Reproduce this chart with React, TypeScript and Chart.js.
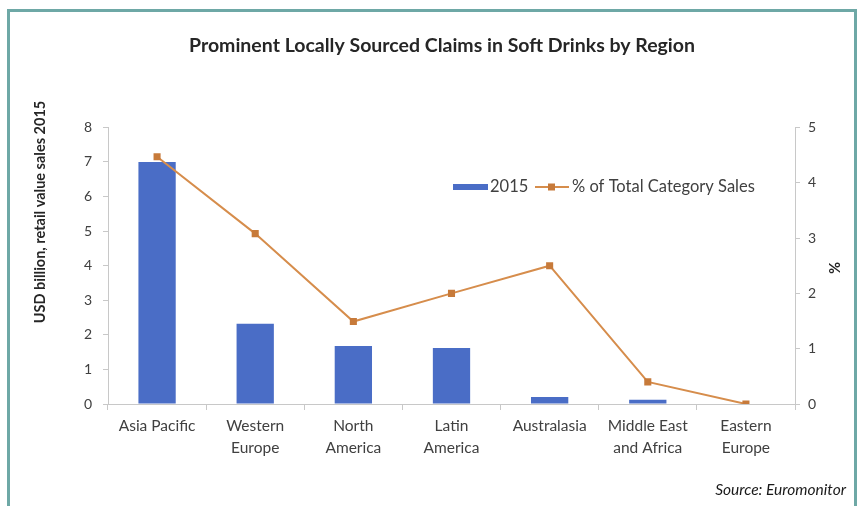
import { useEffect, useRef } from "react";
import { Chart, registerables } from "chart.js";

Chart.register(...registerables);

const chartTitle = "Prominent Locally Sourced Claims in Soft Drinks by Region";
const leftAxisTitle = "USD billion, retail value sales 2015";
const rightAxisTitle = "%";
const sourceText = "Source: Euromonitor";

const categories: string[][] = [
  ["Asia Pacific"],
  ["Western", "Europe"],
  ["North", "America"],
  ["Latin", "America"],
  ["Australasia"],
  ["Middle East", "and Africa"],
  ["Eastern", "Europe"],
];
const barLabel = "2015";
const sales2015 = [7.0, 2.32, 1.68, 1.62, 0.2, 0.12, 0];
const lineLabel = "% of Total Category Sales";
const pctOfTotal = [4.47, 3.08, 1.49, 2.0, 2.5, 0.4, 0];

const leftTicks = [0, 1, 2, 3, 4, 5, 6, 7, 8];
const rightTicks = [0, 1, 2, 3, 4, 5];

const BAR_COLOR = "#4a6dc6";
const LINE_COLOR = "#d68d4c";
const MARKER_COLOR = "#c77a3a";
const TEXT_COLOR = "#404040";
const AXIS_COLOR = "#c8c8c8";
const FONT = "Lato, 'Open Sans', sans-serif";

const overlayPlugin = {
  id: "overlay",
  afterDraw(chart: any) {
    const ctx = chart.ctx as CanvasRenderingContext2D;
    ctx.save();
    // left axis title
    ctx.fillStyle = "#262626";
    ctx.font = `bold 14.5px ${FONT}`;
    ctx.textAlign = "center";
    ctx.textBaseline = "middle";
    ctx.save();
    ctx.translate(40, 212);
    ctx.rotate(-Math.PI / 2);
    ctx.fillText(leftAxisTitle, 0, 0);
    ctx.restore();
    // right axis title
    ctx.save();
    ctx.translate(834, 268);
    ctx.rotate(Math.PI / 2);
    ctx.fillText(rightAxisTitle, 0, 0);
    ctx.restore();

    // legend
    const ds = chart.data.datasets;
    const ly = 187;
    ctx.font = `16.5px ${FONT}`;
    ctx.textAlign = "left";
    ctx.fillStyle = ds[1].backgroundColor;
    ctx.fillRect(453, ly - 3, 35, 6);
    ctx.fillStyle = TEXT_COLOR;
    ctx.fillText(ds[1].label, 490, ly);
    ctx.strokeStyle = ds[0].borderColor;
    ctx.lineWidth = 2;
    ctx.beginPath();
    ctx.moveTo(535, ly);
    ctx.lineTo(569, ly);
    ctx.stroke();
    ctx.fillStyle = ds[0].pointBackgroundColor;
    ctx.fillRect(548, ly - 3.5, 7, 7);
    ctx.fillStyle = TEXT_COLOR;
    ctx.fillText(ds[0].label, 572, ly);
    ctx.restore();
  },
};

export default function App() {
  const ref = useRef<HTMLCanvasElement>(null);
  useEffect(() => {
    document.body.style.margin = "0";
    const chart = new Chart(ref.current!, {
      type: "bar",
      data: {
        labels: categories,
        datasets: [
          {
            type: "line",
            label: lineLabel,
            data: pctOfTotal,
            yAxisID: "y1",
            borderColor: LINE_COLOR,
            backgroundColor: MARKER_COLOR,
            borderWidth: 2,
            pointStyle: "rect",
            pointRadius: 5,
            pointBackgroundColor: MARKER_COLOR,
            pointBorderColor: MARKER_COLOR,
            pointBorderWidth: 0,
            tension: 0,
            order: 1,
          } as any,
          {
            type: "bar",
            label: barLabel,
            data: sales2015,
            yAxisID: "y",
            backgroundColor: BAR_COLOR,
            barPercentage: 0.38,
            categoryPercentage: 1,
            order: 2,
          },
        ],
      },
      options: {
        responsive: false,
        animation: false,
        devicePixelRatio: 1,
        layout: { padding: { left: 40, right: 18, top: 0, bottom: 22 } },
        plugins: {
          legend: { display: false },
          tooltip: { enabled: false },
          title: {
            display: true,
            text: chartTitle,
            color: "#262626",
            font: { family: FONT, size: 19.5, weight: "bold" },
            padding: { top: 34, bottom: 70 },
          },
        },
        scales: {
          x: {
            offset: true,
            grid: {
              offset: true,
              drawOnChartArea: false,
              drawTicks: true,
              tickLength: 6,
              color: AXIS_COLOR,
            },
            border: { color: AXIS_COLOR, width: 1 },
            ticks: {
              color: TEXT_COLOR,
              font: { family: FONT, size: 15.5, lineHeight: 1.42 },
              padding: 5,
              maxRotation: 0,
              autoSkip: false,
            },
            afterFit: (s: any) => {
              s.height = 80;
            },
          },
          y: {
            position: "left",
            min: 0,
            max: 8,
            afterBuildTicks: (s: any) => {
              s.ticks = leftTicks.map((v) => ({ value: v }));
            },
            grid: { drawOnChartArea: false, tickLength: 5, color: AXIS_COLOR },
            border: { color: AXIS_COLOR },
            ticks: { color: TEXT_COLOR, font: { family: FONT, size: 14 }, padding: 11 },
            afterFit: (s: any) => {
              s.width = 68;
            },
          },
          y1: {
            position: "right",
            min: 0,
            max: 5,
            afterBuildTicks: (s: any) => {
              s.ticks = rightTicks.map((v) => ({ value: v }));
            },
            grid: { drawOnChartArea: false, tickLength: 5, color: AXIS_COLOR },
            border: { color: AXIS_COLOR },
            ticks: { color: TEXT_COLOR, font: { family: FONT, size: 14 }, padding: 8 },
            afterFit: (s: any) => {
              s.width = 49;
            },
          },
        },
      },
      plugins: [overlayPlugin],
    });
    return () => chart.destroy();
  }, []);

  return (
    <div style={{ position: "relative", width: 862, height: 506, overflow: "hidden", background: "#fff" }}>
      <div
        style={{
          position: "absolute",
          left: 7,
          top: 9,
          width: 850,
          height: 520,
          boxSizing: "border-box",
          border: "3px solid #6ea8a6",
          borderBottom: "none",
        }}
      />
      <canvas ref={ref} width={862} height={506} style={{ position: "absolute", left: 0, top: 0 }} />
      <div
        style={{
          position: "absolute",
          right: 862 - 846,
          top: 480,
          font: `italic 15.5px ${FONT}`,
          color: "#1a1a1a",
          whiteSpace: "nowrap",
        }}
      >
        {sourceText}
      </div>
    </div>
  );
}
